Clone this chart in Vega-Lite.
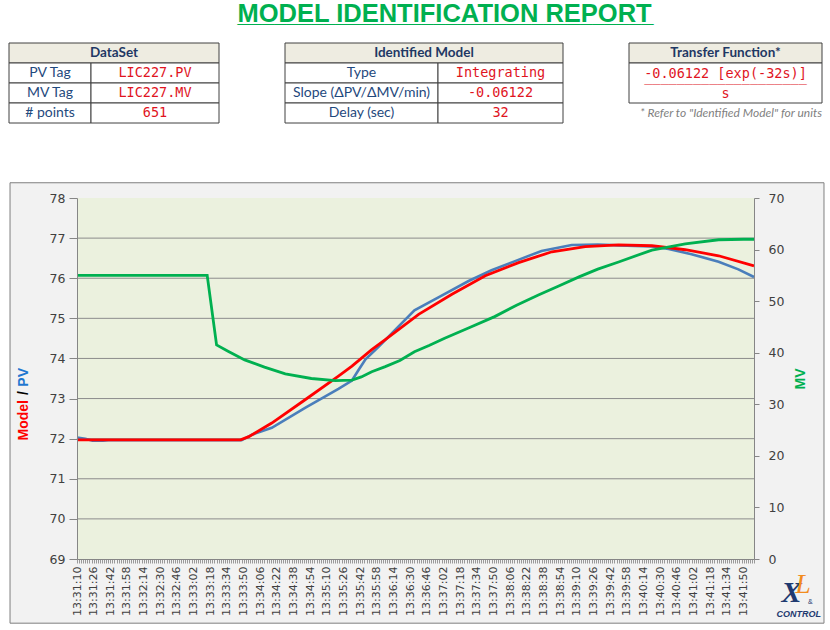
{
  "$schema": "https://vega.github.io/schema/vega-lite/v6.json",
  "padding": {"left": 8, "top": 2, "right": 0, "bottom": 0},
  "background": "#FFFFFF",
  "title": {
    "text": "MODEL IDENTIFICATION REPORT",
    "subtitle": "__________________________________",
    "anchor": "start",
    "dx": 229,
    "font": "Liberation Sans",
    "fontSize": 25.5,
    "fontWeight": "bold",
    "color": "#00B050",
    "subtitleFont": "Liberation Sans",
    "subtitleFontSize": 22,
    "subtitleFontWeight": "bold",
    "subtitleColor": "#00B050",
    "subtitlePadding": -23,
    "offset": 15
  },
  "config": {
    "view": {"stroke": null},
    "text": {"font": "Lato"}
  },
  "spacing": 58,
  "datasets": {
    "pv": [
      {"t": 0, "v": 72.03}, {"t": 8, "v": 72.0}, {"t": 15, "v": 71.95}, {"t": 25, "v": 71.95},
      {"t": 30, "v": 71.96}, {"t": 60, "v": 71.96}, {"t": 100, "v": 71.96}, {"t": 158, "v": 71.96},
      {"t": 168, "v": 72.1}, {"t": 187, "v": 72.27}, {"t": 219, "v": 72.77}, {"t": 251, "v": 73.24},
      {"t": 264, "v": 73.45}, {"t": 270, "v": 73.7}, {"t": 277, "v": 73.98}, {"t": 290, "v": 74.3},
      {"t": 305, "v": 74.7}, {"t": 324, "v": 75.2}, {"t": 347, "v": 75.52}, {"t": 376, "v": 75.93},
      {"t": 398, "v": 76.2}, {"t": 420, "v": 76.42}, {"t": 446, "v": 76.68}, {"t": 475, "v": 76.83},
      {"t": 500, "v": 76.84}, {"t": 520, "v": 76.82}, {"t": 552, "v": 76.79}, {"t": 568, "v": 76.73},
      {"t": 590, "v": 76.6}, {"t": 616, "v": 76.41}, {"t": 635, "v": 76.22}, {"t": 650, "v": 76.03}
    ],
    "model": [
      {"t": 0, "v": 71.97}, {"t": 157, "v": 71.97}, {"t": 165, "v": 72.05}, {"t": 187, "v": 72.39},
      {"t": 219, "v": 72.97}, {"t": 251, "v": 73.56}, {"t": 264, "v": 73.81}, {"t": 283, "v": 74.22},
      {"t": 296, "v": 74.47}, {"t": 328, "v": 75.1}, {"t": 360, "v": 75.6}, {"t": 392, "v": 76.06},
      {"t": 424, "v": 76.39}, {"t": 456, "v": 76.66}, {"t": 488, "v": 76.79}, {"t": 520, "v": 76.83},
      {"t": 552, "v": 76.81}, {"t": 584, "v": 76.71}, {"t": 616, "v": 76.56}, {"t": 650, "v": 76.31}
    ],
    "mv": [
      {"t": 0, "v": 55.0}, {"t": 125, "v": 55.0}, {"t": 134, "v": 41.5}, {"t": 145, "v": 40.3},
      {"t": 161, "v": 38.6}, {"t": 180, "v": 37.2}, {"t": 200, "v": 35.9}, {"t": 225, "v": 35.0},
      {"t": 248, "v": 34.6}, {"t": 264, "v": 34.7}, {"t": 273, "v": 35.3}, {"t": 283, "v": 36.3},
      {"t": 296, "v": 37.3}, {"t": 310, "v": 38.5}, {"t": 324, "v": 40.2}, {"t": 338, "v": 41.4},
      {"t": 353, "v": 42.8}, {"t": 377, "v": 44.9}, {"t": 401, "v": 47.0}, {"t": 422, "v": 49.2},
      {"t": 443, "v": 51.2}, {"t": 462, "v": 52.9}, {"t": 482, "v": 54.7}, {"t": 500, "v": 56.2},
      {"t": 520, "v": 57.6}, {"t": 552, "v": 59.9}, {"t": 584, "v": 61.1}, {"t": 616, "v": 61.9},
      {"t": 640, "v": 62.0}, {"t": 650, "v": 62.0}
    ],
    "grid": [{"g": 70}, {"g": 71}, {"g": 72}, {"g": 73}, {"g": 74}, {"g": 75}, {"g": 76}, {"g": 77}]
  },
  "vconcat": [
    {
      "spacing": 64,
      "hconcat": [
        {
          "width": 142,
          "height": 80,
          "data": {"values": [
            {"r": 0, "r2": 1, "c": 0, "c2": 2, "text": "DataSet", "role": "header"},
            {"r": 1, "r2": 2, "c": 0, "c2": 1, "text": "PV Tag", "role": "label"},
            {"r": 1, "r2": 2, "c": 1, "c2": 2, "text": "LIC227.PV", "role": "value"},
            {"r": 2, "r2": 3, "c": 0, "c2": 1, "text": "MV Tag", "role": "label"},
            {"r": 2, "r2": 3, "c": 1, "c2": 2, "text": "LIC227.MV", "role": "value"},
            {"r": 3, "r2": 4, "c": 0, "c2": 1, "text": "# points", "role": "label"},
            {"r": 3, "r2": 4, "c": 1, "c2": 2, "text": "651", "role": "value"}
          ]},
          "encoding": {
            "x": {"field": "c", "type": "quantitative", "scale": {"domain": [0, 1, 2], "range": [-68, 14, 142], "nice": false, "zero": false}, "axis": null},
            "y": {"field": "r", "type": "quantitative", "scale": {"domain": [0, 4], "range": [0, 80], "nice": false, "zero": false}, "axis": null}
          },
          "layer": [
            {"mark": {"type": "rect", "stroke": "#404040", "strokeWidth": 1},
             "encoding": {"x2": {"field": "c2"}, "y2": {"field": "r2"},
               "fill": {"condition": {"test": "datum.role === 'header'", "value": "#EEECE1"}, "value": "#FFFFFF"}}},
            {"transform": [{"filter": "datum.role === 'header'"}],
             "mark": {"type": "text", "dx": 105, "dy": 10, "font": "Lato", "fontSize": 13.5, "fontWeight": "bold", "color": "#1F3864"},
             "encoding": {"text": {"field": "text"}}},
            {"transform": [{"filter": "datum.role === 'label'"}],
             "mark": {"type": "text", "dx": 41, "dy": 10, "font": "Lato", "fontSize": 14, "color": "#1F497D"},
             "encoding": {"text": {"field": "text"}}},
            {"transform": [{"filter": "datum.role === 'value'"}],
             "mark": {"type": "text", "dx": 64, "dy": 10, "font": "DejaVu Sans Mono", "fontSize": 13.5, "color": "#E0141E"},
             "encoding": {"text": {"field": "text"}}}
          ]
        },
        {
          "width": 278,
          "height": 80,
          "data": {"values": [
            {"r": 0, "r2": 1, "c": 0, "c2": 2, "text": "Identified Model", "role": "header"},
            {"r": 1, "r2": 2, "c": 0, "c2": 1, "text": "Type", "role": "label"},
            {"r": 1, "r2": 2, "c": 1, "c2": 2, "text": "Integrating", "role": "value"},
            {"r": 2, "r2": 3, "c": 0, "c2": 1, "text": "Slope (ΔPV/ΔMV/min)", "role": "label"},
            {"r": 2, "r2": 3, "c": 1, "c2": 2, "text": "-0.06122", "role": "value"},
            {"r": 3, "r2": 4, "c": 0, "c2": 1, "text": "Delay (sec)", "role": "label"},
            {"r": 3, "r2": 4, "c": 1, "c2": 2, "text": "32", "role": "value"}
          ]},
          "encoding": {
            "x": {"field": "c", "type": "quantitative", "scale": {"domain": [0, 1, 2], "range": [0, 153, 278], "nice": false, "zero": false}, "axis": null},
            "y": {"field": "r", "type": "quantitative", "scale": {"domain": [0, 4], "range": [0, 80], "nice": false, "zero": false}, "axis": null}
          },
          "layer": [
            {"mark": {"type": "rect", "stroke": "#404040", "strokeWidth": 1},
             "encoding": {"x2": {"field": "c2"}, "y2": {"field": "r2"},
               "fill": {"condition": {"test": "datum.role === 'header'", "value": "#EEECE1"}, "value": "#FFFFFF"}}},
            {"transform": [{"filter": "datum.role === 'header'"}],
             "mark": {"type": "text", "dx": 139, "dy": 10, "font": "Lato", "fontSize": 13.5, "fontWeight": "bold", "color": "#1F3864"},
             "encoding": {"text": {"field": "text"}}},
            {"transform": [{"filter": "datum.role === 'label'"}],
             "mark": {"type": "text", "dx": 76.5, "dy": 10, "font": "Lato", "fontSize": 14, "color": "#1F497D"},
             "encoding": {"text": {"field": "text"}}},
            {"transform": [{"filter": "datum.role === 'value'"}],
             "mark": {"type": "text", "dx": 62.5, "dy": 10, "font": "DejaVu Sans Mono", "fontSize": 13.5, "color": "#E0141E"},
             "encoding": {"text": {"field": "text"}}}
          ]
        },
        {
          "width": 193,
          "height": 80,
          "data": {"values": [
            {"r": 0, "r2": 1, "c": 0, "c2": 1, "text": "Transfer Function*", "role": "header"},
            {"r": 1, "r2": 3, "c": 0, "c2": 1, "text": "-0.06122 [exp(-32s)]", "role": "value"},
            {"r": 1, "c": 0, "text": "____________________", "role": "bar"},
            {"r": 2, "c": 0, "text": "s", "role": "value"},
            {"r": 3, "c": 0, "text": "* Refer to \"Identified Model\" for units", "role": "foot"}
          ]},
          "encoding": {
            "x": {"field": "c", "type": "quantitative", "scale": {"domain": [0, 1], "range": [0, 193], "nice": false, "zero": false}, "axis": null},
            "y": {"field": "r", "type": "quantitative", "scale": {"domain": [0, 4], "range": [0, 80], "nice": false, "zero": false}, "axis": null}
          },
          "layer": [
            {"transform": [{"filter": "datum.r2 != null"}],
             "mark": {"type": "rect", "stroke": "#404040", "strokeWidth": 1},
             "encoding": {"x2": {"field": "c2"}, "y2": {"field": "r2"},
               "fill": {"condition": {"test": "datum.role === 'header'", "value": "#EEECE1"}, "value": "#FFFFFF"}}},
            {"transform": [{"filter": "datum.role === 'header'"}],
             "mark": {"type": "text", "dx": 96.5, "dy": 10, "font": "Lato", "fontSize": 13.5, "fontWeight": "bold", "color": "#1F3864"},
             "encoding": {"text": {"field": "text"}}},
            {"transform": [{"filter": "datum.role === 'value'"}],
             "mark": {"type": "text", "dx": 96.5, "dy": 11, "font": "DejaVu Sans Mono", "fontSize": 13.5, "color": "#E0141E"},
             "encoding": {"text": {"field": "text"}}},
            {"transform": [{"filter": "datum.role === 'bar'"}],
             "mark": {"type": "text", "dx": 96.5, "dy": 14, "font": "DejaVu Sans Mono", "fontSize": 13.5, "color": "#E0141E"},
             "encoding": {"text": {"field": "text"}}},
            {"transform": [{"filter": "datum.role === 'foot'"}],
             "mark": {"type": "text", "dx": 102, "dy": 10, "font": "Lato", "fontSize": 12, "fontStyle": "italic", "color": "#7F7F7F"},
             "encoding": {"text": {"field": "text"}}}
          ]
        }
      ]
    },
    {
      "width": 677,
      "height": 361,
      "resolve": {"scale": {"y": "independent"}},
      "layer": [
        {
          "layer": [
            {
              "data": {"values": [{}]},
              "mark": {"type": "rect", "fill": "#F2F2F2", "stroke": "#7F7F7F", "strokeWidth": 1, "clip": false},
              "encoding": {
                "x": {"datum": -64.3, "type": "quantitative", "scale": {"domain": [0, 650], "nice": false, "zero": false}},
                "x2": {"datum": 717.2},
                "y": {"datum": 78.38, "type": "quantitative", "scale": {"domain": [69, 78], "nice": false, "zero": false}},
                "y2": {"datum": 67.4}
              }
            },
            {
              "data": {"values": [{}]},
              "mark": {"type": "rect", "fill": "#EBF1DE"},
              "encoding": {
                "x": {"datum": 0, "type": "quantitative", "scale": {"domain": [0, 650], "nice": false, "zero": false}},
                "x2": {"datum": 650},
                "y": {"datum": 69, "type": "quantitative", "scale": {"domain": [69, 78], "nice": false, "zero": false}},
                "y2": {"datum": 78}
              }
            },
            {
              "data": {"name": "grid"},
              "mark": {"type": "rule", "color": "#8C8C8C", "strokeWidth": 1},
              "encoding": {
                "y": {"field": "g", "type": "quantitative", "scale": {"domain": [69, 78], "nice": false, "zero": false}}
              }
            },
            {
              "data": {"name": "pv"},
              "mark": {"type": "line", "color": "#4A7EBB", "strokeWidth": 2.6},
              "encoding": {
                "x": {"field": "t", "type": "quantitative", "scale": {"domain": [0, 650], "nice": false, "zero": false},
                  "axis": {"zindex": 1, "tickCount": 325, "labelExpr": "datum.value % 16 === 0 ? timeFormat(datetime(2024, 0, 1, 13, 31, 10 + datum.value), '%H:%M:%S') : ''",
                    "labelAngle": 270, "labelOverlap": false, "labelFlush": false, "labelBound": false,
                    "labelFont": "DejaVu Sans", "labelFontSize": 11, "labelColor": "#404040", "labelPadding": 3,
                    "tickColor": "#9A9A9A", "tickSize": 4, "domainColor": "#868686", "grid": false, "title": null}},
                "y": {"field": "v", "type": "quantitative", "scale": {"domain": [69, 78], "nice": false, "zero": false},
                  "axis": {"zindex": 1, "values": [69, 70, 71, 72, 73, 74, 75, 76, 77, 78], "tickSize": 8, "labelPadding": 4,
                    "labelFont": "DejaVu Sans", "labelFontSize": 12.5, "labelColor": "#404040",
                    "tickColor": "#868686", "domainColor": "#868686", "grid": false, "title": null}}
              }
            },
            {
              "data": {"name": "model"},
              "mark": {"type": "line", "color": "#FF0000", "strokeWidth": 2.8},
              "encoding": {
                "x": {"field": "t", "type": "quantitative", "scale": {"domain": [0, 650], "nice": false, "zero": false}},
                "y": {"field": "v", "type": "quantitative", "scale": {"domain": [69, 78], "nice": false, "zero": false}}
              }
            },
            {
              "data": {"values": [{}]},
              "mark": {"type": "text", "text": "Model", "angle": 270, "font": "Liberation Sans", "fontSize": 14, "fontWeight": "bold", "color": "#FF0000", "clip": false},
              "encoding": {"x": {"datum": -50.9, "type": "quantitative"}, "y": {"datum": 72.46, "type": "quantitative"}}
            },
            {
              "data": {"values": [{}]},
              "mark": {"type": "text", "text": "/", "angle": 270, "font": "Liberation Sans", "fontSize": 14, "fontWeight": "bold", "color": "#000000", "clip": false},
              "encoding": {"x": {"datum": -50.9, "type": "quantitative"}, "y": {"datum": 73.14, "type": "quantitative"}}
            },
            {
              "data": {"values": [{}]},
              "mark": {"type": "text", "text": "PV", "angle": 270, "font": "Liberation Sans", "fontSize": 14, "fontWeight": "bold", "color": "#1F77D0", "clip": false},
              "encoding": {"x": {"datum": -50.9, "type": "quantitative"}, "y": {"datum": 73.53, "type": "quantitative"}}
            },
            {
              "data": {"values": [{}]},
              "mark": {"type": "text", "text": "X", "font": "Liberation Serif", "fontSize": 30, "fontWeight": "bold", "fontStyle": "italic", "color": "#1F3A70", "clip": false},
              "encoding": {"x": {"datum": 686, "type": "quantitative"}, "y": {"datum": 68.15, "type": "quantitative"}}
            },
            {
              "data": {"values": [{}]},
              "mark": {"type": "text", "text": "L", "font": "Liberation Serif", "fontSize": 28, "fontStyle": "italic", "color": "#F28C1E", "clip": false},
              "encoding": {"x": {"datum": 697, "type": "quantitative"}, "y": {"datum": 68.35, "type": "quantitative"}}
            },
            {
              "data": {"values": [{}]},
              "mark": {"type": "text", "text": "&", "font": "Liberation Sans", "fontSize": 7, "color": "#1F3A70", "clip": false},
              "encoding": {"x": {"datum": 704, "type": "quantitative"}, "y": {"datum": 67.93, "type": "quantitative"}}
            },
            {
              "data": {"values": [{}]},
              "mark": {"type": "text", "text": "CONTROL", "font": "Liberation Sans", "fontSize": 9, "fontWeight": "bold", "fontStyle": "italic", "color": "#1F3A70", "clip": false},
              "encoding": {"x": {"datum": 693, "type": "quantitative"}, "y": {"datum": 67.63, "type": "quantitative"}}
            }
          ]
        },
        {
          "data": {"name": "mv"},
          "mark": {"type": "line", "color": "#00B050", "strokeWidth": 2.8},
          "encoding": {
            "x": {"field": "t", "type": "quantitative", "scale": {"domain": [0, 650], "nice": false, "zero": false}},
            "y": {"field": "v", "type": "quantitative", "scale": {"domain": [0, 70], "nice": false, "zero": false},
              "axis": {"zindex": 1, "orient": "right", "values": [0, 10, 20, 30, 40, 50, 60, 70], "tickSize": 5, "labelPadding": 9,
                "labelFont": "DejaVu Sans", "labelFontSize": 12.5, "labelColor": "#404040",
                "tickColor": "#868686", "domainColor": "#868686", "grid": false,
                "title": "MV", "titleColor": "#00B050", "titleFont": "Liberation Sans", "titleFontSize": 14, "titleFontWeight": "bold",
                "titleAngle": 270, "titlePadding": 24}}
          }
        }
      ]
    }
  ]
}
